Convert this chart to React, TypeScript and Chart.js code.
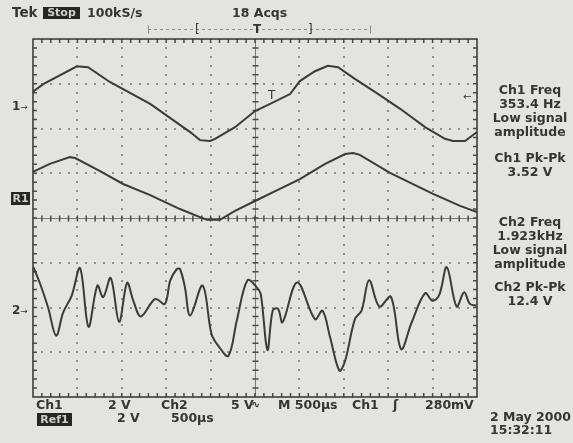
import React, { useEffect, useRef } from "react";
import { Chart, registerables } from "chart.js";
Chart.register(...registerables);

// Horizontal position in graticule divisions (500 µs/div), vertical in divisions
const ch1X = [0, 0.23, 0.99, 1.24, 1.73, 2.64, 3.54, 3.76, 3.99, 4.1, 4.55, 5.0, 5.34, 5.79, 6.01, 6.35, 6.64, 6.87, 7.25, 7.7, 8.27, 8.83, 9.28, 9.46, 9.73, 10];
const ch1Y = [2.82, 2.99, 3.39, 3.37, 3.04, 2.55, 1.92, 1.74, 1.72, 1.77, 2.03, 2.39, 2.55, 2.77, 3.06, 3.28, 3.4, 3.37, 3.11, 2.82, 2.44, 2.03, 1.77, 1.72, 1.72, 1.92];

const ref1X = [0, 0.38, 0.83, 0.95, 1.51, 2.03, 2.64, 3.31, 3.76, 3.92, 4.21, 4.55, 5.0, 5.56, 6.01, 6.58, 7.03, 7.21, 7.36, 8.04, 9.01, 9.62, 10];
const ref1Y = [1.03, 1.21, 1.36, 1.34, 1.05, 0.76, 0.51, 0.2, 0.02, -0.04, -0.04, 0.16, 0.38, 0.65, 0.87, 1.21, 1.43, 1.45, 1.41, 1.01, 0.54, 0.27, 0.13];

const ch2X = [0.01, 0.16, 0.34, 0.52, 0.68, 0.87, 1.06, 1.25, 1.45, 1.58, 1.75, 1.94, 2.12, 2.26, 2.43, 2.75, 2.97, 3.09, 3.24, 3.31, 3.42, 3.54, 3.82, 4.02, 4.17, 4.4, 4.59, 4.83, 5.04, 5.13, 5.28, 5.4, 5.52, 5.62, 5.95, 6.35, 6.52, 6.69, 6.9, 7.03, 7.25, 7.4, 7.57, 7.8, 8.06, 8.29, 8.53, 8.83, 9.0, 9.15, 9.32, 9.54, 9.71, 9.84, 9.99];
const ch2Y = [-1.1, -1.47, -2.0, -2.63, -2.11, -1.74, -1.12, -2.43, -1.51, -1.77, -1.34, -2.32, -1.45, -1.85, -2.2, -1.81, -1.92, -1.4, -1.14, -1.14, -1.54, -2.18, -1.51, -2.59, -2.85, -3.08, -2.29, -1.39, -1.55, -1.7, -2.95, -2.06, -2.03, -2.33, -1.44, -2.26, -2.07, -2.66, -3.41, -3.19, -2.26, -2.07, -1.39, -1.98, -1.76, -2.93, -2.33, -1.68, -1.85, -1.72, -1.1, -1.98, -1.66, -1.92, -1.96];

const rightTexts = [
  ["Ch1 Freq", "353.4 Hz", "Low signal", "amplitude"],
  ["Ch1 Pk-Pk", "3.52 V"],
  ["Ch2 Freq", "1.923kHz", "Low signal", "amplitude"],
  ["Ch2 Pk-Pk", "12.4 V"],
];

const FONT = '"DejaVu Sans", Verdana, sans-serif';
const INK = "#353535";
const BG = "#e3e3e0";

const pts = (xs: number[], ys: number[]) => xs.map((x, i) => ({ x, y: ys[i] }));

const gridPlugin = {
  id: "scopeGrid",
  beforeDatasetsDraw(chart: any) {
    const { ctx, chartArea: a, scales } = chart;
    const xs = scales.x, ys = scales.y;
    ctx.save();
    // dotted graticule
    ctx.fillStyle = "#8e8e8b";
    for (let i = 1; i < 10; i++) {
      if (i === 5) continue;
      const px = Math.round(xs.getPixelForValue(i));
      for (let j = 1; j < 40; j++) {
        const py = Math.round(ys.getPixelForValue(-4 + j * 0.2));
        ctx.fillRect(px - 1, py - 1, 2, 2);
      }
    }
    for (let k = -3; k <= 3; k++) {
      if (k === 0) continue;
      const py = Math.round(ys.getPixelForValue(k));
      for (let j = 1; j < 50; j++) {
        const px = Math.round(xs.getPixelForValue(j * 0.2));
        ctx.fillRect(px - 1, py - 1, 2, 2);
      }
    }
    // center crosshair
    const cx = Math.round(xs.getPixelForValue(5)) + 0.5;
    const cy = Math.round(ys.getPixelForValue(0)) + 0.5;
    ctx.strokeStyle = "#7a7a78";
    ctx.lineWidth = 1;
    ctx.beginPath();
    ctx.moveTo(a.left, cy); ctx.lineTo(a.right, cy);
    ctx.moveTo(cx, a.top); ctx.lineTo(cx, a.bottom);
    ctx.stroke();
    ctx.strokeStyle = "#4a4a48";
    ctx.lineWidth = 1.5;
    ctx.beginPath();
    for (let j = 1; j < 50; j++) {
      const px = xs.getPixelForValue(j * 0.2);
      ctx.moveTo(px, cy - 3); ctx.lineTo(px, cy + 3);
      ctx.moveTo(px, a.top); ctx.lineTo(px, a.top + 4);
      ctx.moveTo(px, a.bottom); ctx.lineTo(px, a.bottom - 4);
    }
    for (let j = 1; j < 40; j++) {
      const py = ys.getPixelForValue(-4 + j * 0.2);
      ctx.moveTo(cx - 3, py); ctx.lineTo(cx + 3, py);
      ctx.moveTo(a.left, py); ctx.lineTo(a.left + 4, py);
      ctx.moveTo(a.right, py); ctx.lineTo(a.right - 4, py);
    }
    ctx.stroke();
    // frame
    ctx.strokeStyle = "#3e3e3c";
    ctx.lineWidth = 1.6;
    ctx.strokeRect(a.left, a.top, a.right - a.left, a.bottom - a.top);
    // record window bar at top
    const barY = a.top - 9.5;
    ctx.strokeStyle = "#8a8a88";
    ctx.lineWidth = 1;
    ctx.setLineDash([3, 3]);
    ctx.beginPath();
    ctx.moveTo(a.left + 115, barY); ctx.lineTo(a.left + 337, barY);
    ctx.stroke();
    ctx.setLineDash([]);
    ctx.beginPath();
    ctx.moveTo(a.left + 115.5, barY - 4); ctx.lineTo(a.left + 115.5, barY + 4);
    ctx.moveTo(a.left + 337.5, barY - 4); ctx.lineTo(a.left + 337.5, barY + 4);
    ctx.stroke();
    ctx.restore();
  },
};

function Label({ left, top, children, style }: any) {
  return (
    <div
      style={{
        position: "absolute",
        left,
        top,
        font: `bold 12.5px ${FONT}`,
        color: INK,
        whiteSpace: "pre",
        lineHeight: "14px",
        ...style,
      }}
    >
      {children}
    </div>
  );
}

function Inverse({ left, top, width, height, children }: any) {
  return (
    <div
      style={{
        position: "absolute",
        left,
        top,
        width,
        height,
        background: "#262626",
        color: "#cfcfcc",
        font: `bold 11px ${FONT}`,
        lineHeight: `${height}px`,
        textAlign: "center",
        whiteSpace: "pre",
      }}
    >
      {children}
    </div>
  );
}

export default function App() {
  const ref = useRef<HTMLCanvasElement>(null);
  useEffect(() => {
    document.body.style.margin = "0";
    document.body.style.background = BG;
    const line = (data: any, tension: number) => ({
      data,
      borderColor: "#3a3a38",
      borderWidth: 2,
      pointRadius: 0,
      tension,
      fill: false,
    });
    const chart = new Chart(ref.current!, {
      type: "line",
      data: {
        datasets: [
          { label: "Ch1", ...line(pts(ch1X, ch1Y), 0) },
          { label: "Ref1", ...line(pts(ref1X, ref1Y), 0) },
          { label: "Ch2", ...line(pts(ch2X, ch2Y), 0.35) },
        ],
      },
      options: {
        animation: false,
        responsive: false,
        devicePixelRatio: 1,
        layout: { padding: { left: 33, top: 39, right: 96, bottom: 46 } },
        scales: {
          x: { type: "linear", min: 0, max: 10, display: false },
          y: { type: "linear", min: -4, max: 4, display: false },
        },
        plugins: { legend: { display: false }, tooltip: { enabled: false } },
      },
      plugins: [gridPlugin],
    } as any);
    return () => chart.destroy();
  }, []);

  const blockTops = [83, 151, 215, 280];

  return (
    <div style={{ position: "fixed", left: 0, top: 0, width: 573, height: 443, background: BG, overflow: "hidden" }}>
      <canvas ref={ref} width={573} height={443} style={{ position: "absolute", left: 0, top: 0, width: 573, height: 443 }} />
      {/* top status line */}
      <Label left={12} top={5} style={{ fontSize: 13.5 }}>Tek</Label>
      <Inverse left={43} top={7} width={37} height={12}>Stop</Inverse>
      <Label left={87} top={6}>100kS/s</Label>
      <Label left={232} top={6}>18 Acqs</Label>
      <Label left={195} top={22} style={{ fontWeight: "normal", fontSize: 12 }}>[</Label>
      <Label left={253} top={22} style={{ fontSize: 12 }}>T</Label>
      <Label left={308} top={22} style={{ fontWeight: "normal", fontSize: 12 }}>]</Label>
      {/* channel markers */}
      <Label left={12} top={99} style={{ fontSize: 12 }}>1<span style={{ fontSize: 9, fontWeight: "normal" }}>→</span></Label>
      <Inverse left={11} top={192} width={19} height={13}>R1</Inverse>
      <Label left={12} top={303} style={{ fontSize: 12 }}>2<span style={{ fontSize: 9, fontWeight: "normal" }}>→</span></Label>
      <Label left={463} top={90} style={{ fontSize: 10, fontWeight: "normal" }}>←</Label>
      <Label left={268} top={88} style={{ fontSize: 12, fontWeight: "normal" }}>T</Label>
      {/* right readouts */}
      {rightTexts.map((lines, i) => (
        <Label key={i} left={485} top={blockTops[i]} style={{ width: 90, textAlign: "center" }}>
          {lines.join("\n")}
        </Label>
      ))}
      {/* bottom readouts */}
      <Label left={36} top={398}>Ch1</Label>
      <Label left={108} top={398}>2 V</Label>
      <Label left={161} top={398}>Ch2</Label>
      <Label left={231} top={398}>5 V</Label>
      <Label left={251} top={398} style={{ fontSize: 11 }}>∿</Label>
      <Label left={278} top={398}>M 500µs</Label>
      <Label left={352} top={398}>Ch1</Label>
      <Label left={393} top={398}>ʃ</Label>
      <Label left={425} top={398}>280mV</Label>
      <Inverse left={37} top={413} width={35} height={13}>Ref1</Inverse>
      <Label left={117} top={411}>2 V</Label>
      <Label left={171} top={411}>500µs</Label>
      <Label left={490} top={410} style={{ lineHeight: "13px" }}>{"2 May 2000\n15:32:11"}</Label>
    </div>
  );
}
